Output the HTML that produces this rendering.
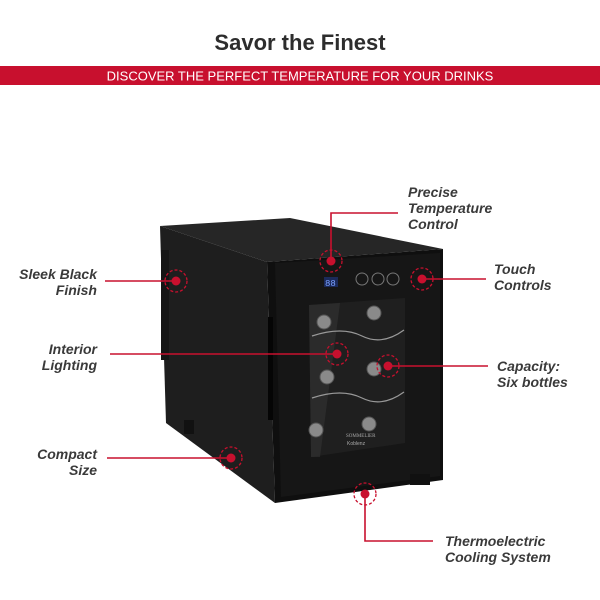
<!DOCTYPE html>
<html><head><style>
html,body{margin:0;padding:0;background:#fff;}
svg{display:block}
.t{font-family:"Liberation Sans",sans-serif;font-style:italic;font-weight:bold;font-size:14px;fill:#3a3a3a;}
</style></head><body>
<svg width="600" height="600" viewBox="0 0 600 600" xmlns="http://www.w3.org/2000/svg">
<rect width="600" height="600" fill="#fff"/>
<text x="300" y="50" text-anchor="middle" font-family="Liberation Sans,sans-serif" font-weight="bold" font-size="22" fill="#2d2d2d">Savor the Finest</text>
<rect x="0" y="66" width="600" height="19" fill="#c8102e"/>
<text x="300" y="80.5" text-anchor="middle" font-family="Liberation Sans,sans-serif" font-size="13" fill="#fff">DISCOVER THE PERFECT TEMPERATURE FOR YOUR DRINKS</text>

<!-- fridge -->
<polygon points="160,226 290,218 443,249 267,262" fill="#262626"/>
<polygon points="160,226 267,262 275,503 166,423" fill="#1e1e1e"/>
<rect x="161" y="250" width="8" height="110" fill="#151515"/>
<rect x="184" y="420" width="10" height="14" fill="#111"/>
<polygon points="267,262 443,249 443,480 275,503" fill="#0f0f0f"/>
<polygon points="275,263 440,253 440,476 281,497" fill="#161616"/>
<rect x="410" y="474" width="20" height="11" fill="#111"/>
<rect x="268" y="317" width="5" height="103" fill="#050505"/>
<polygon points="309,305 405,298 405,443 311,457" fill="#1f1f1f"/>
<polygon points="309,305 340,303 320,457 311,457" fill="#333" opacity="0.6"/>
<path d="M312,336 q30,-10 50,0 t42,-6" stroke="#999" stroke-width="1.2" fill="none"/>
<path d="M312,398 q30,-10 50,0 t42,-6" stroke="#999" stroke-width="1.2" fill="none"/>
<g fill="#8a8a8a" stroke="#555">
<circle cx="324" cy="322" r="7"/><circle cx="374" cy="313" r="7"/>
<circle cx="327" cy="377" r="7"/><circle cx="374" cy="369" r="7"/>
<circle cx="316" cy="430" r="7"/><circle cx="369" cy="424" r="7"/>
</g>
<text x="346" y="437" font-size="5" fill="#aaa" font-family="Liberation Serif,serif">SOMMELIER</text>
<text x="347" y="445" font-size="5" fill="#aaa" font-family="Liberation Sans,sans-serif">Koblenz</text>
<rect x="324" y="277" width="14" height="10" fill="#1b2a5a"/>
<text x="325" y="286" font-size="9" fill="#7aa0ff" font-family="Liberation Mono,monospace">88</text>
<g stroke="#777" fill="none" stroke-width="1">
<circle cx="362" cy="279" r="6"/><circle cx="378" cy="279" r="6"/><circle cx="393" cy="279" r="6"/>
</g>

<!-- connectors -->
<g stroke="#c8102e" stroke-width="1.6" fill="none">
<polyline points="331,261 331,213 398,213"/>
<line x1="105" y1="281" x2="176" y2="281"/>
<line x1="422" y1="279" x2="486" y2="279"/>
<line x1="110" y1="354" x2="337" y2="354"/>
<line x1="388" y1="366" x2="488" y2="366"/>
<line x1="107" y1="458" x2="231" y2="458"/>
<polyline points="365,494 365,541 433,541"/>
</g>
<g stroke="#c8102e" stroke-width="1.3" fill="none" stroke-dasharray="3,2">
<circle cx="331" cy="261" r="11"/><circle cx="176" cy="281" r="11"/>
<circle cx="422" cy="279" r="11"/><circle cx="337" cy="354" r="11"/>
<circle cx="388" cy="366" r="11"/><circle cx="231" cy="458" r="11"/>
<circle cx="365" cy="494" r="11"/>
</g>
<g fill="#c8102e">
<circle cx="331" cy="261" r="4.5"/><circle cx="176" cy="281" r="4.5"/>
<circle cx="422" cy="279" r="4.5"/><circle cx="337" cy="354" r="4.5"/>
<circle cx="388" cy="366" r="4.5"/><circle cx="231" cy="458" r="4.5"/>
<circle cx="365" cy="494" r="4.5"/>
</g>

<!-- labels -->
<text class="t" x="408" y="197">Precise</text>
<text class="t" x="408" y="213">Temperature</text>
<text class="t" x="408" y="229">Control</text>
<text class="t" x="97" y="279" text-anchor="end">Sleek Black</text>
<text class="t" x="97" y="295" text-anchor="end">Finish</text>
<text class="t" x="494" y="274">Touch</text>
<text class="t" x="494" y="290">Controls</text>
<text class="t" x="97" y="354" text-anchor="end">Interior</text>
<text class="t" x="97" y="370" text-anchor="end">Lighting</text>
<text class="t" x="497" y="371">Capacity:</text>
<text class="t" x="497" y="387">Six bottles</text>
<text class="t" x="97" y="459" text-anchor="end">Compact</text>
<text class="t" x="97" y="475" text-anchor="end">Size</text>
<text class="t" x="445" y="546">Thermoelectric</text>
<text class="t" x="445" y="562">Cooling System</text>
</svg>
</body></html>
